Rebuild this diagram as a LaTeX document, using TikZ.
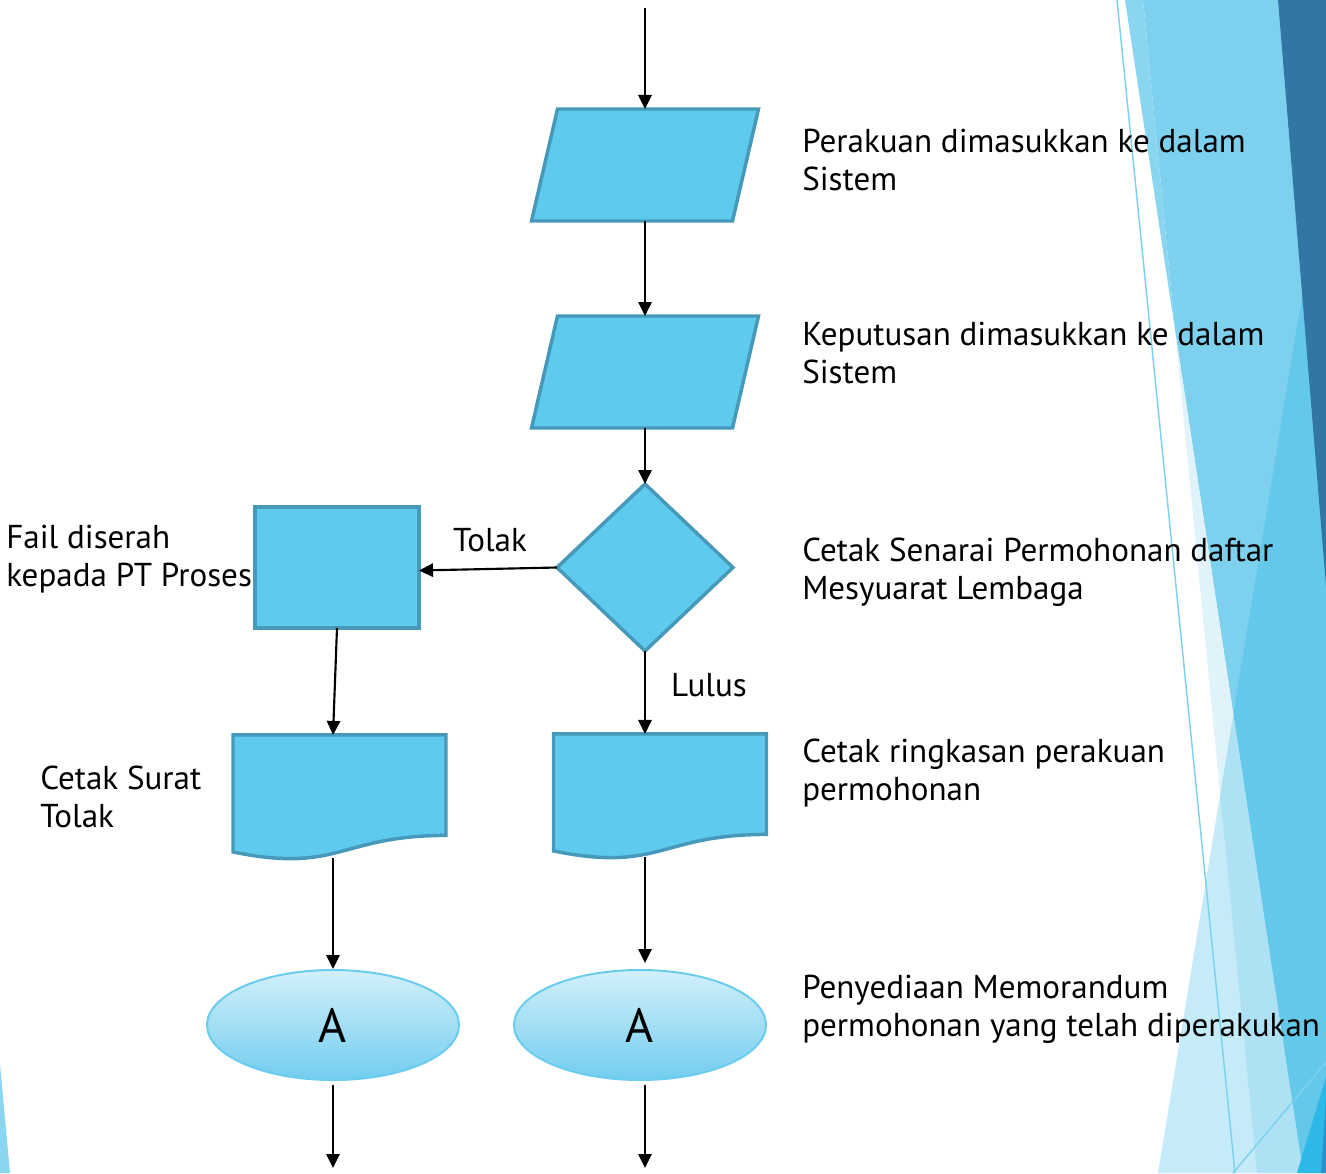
\documentclass[tikz,border=0pt]{standalone}
\usepackage{fontspec}
\setmainfont{PT Sans}
\usetikzlibrary{shapes.geometric,arrows.meta,calc}
\definecolor{shapefill}{HTML}{5ECAED}
\definecolor{shapeedge}{HTML}{4699B9}
\definecolor{ovaltop}{HTML}{D2F0FA}
\definecolor{ovalbot}{HTML}{72CDEF}
\definecolor{ovaledge}{HTML}{6ACCEE}
\definecolor{bgdark}{HTML}{3276A3}
\definecolor{bgmid}{HTML}{7DD1EE}
\definecolor{bgstrip}{HTML}{8AD6F0}
\definecolor{bgpale}{HTML}{E0F3FA}
\definecolor{bgtri}{HTML}{17AEE2}
\definecolor{bgdeep}{HTML}{2DB8E8}
\definecolor{bgdeeper}{HTML}{2E8FCC}
\definecolor{bgline}{HTML}{7DD1EE}
\tikzset{
  flowshape/.style={fill=shapefill, draw=shapeedge, line width=2.6pt, line join=miter, inner sep=0pt, outer sep=0pt},
  paraframe/.style={rectangle, draw=none, inner sep=0pt, outer sep=0pt, minimum width=170.25pt, minimum height=84pt},
  decbox/.style={flowshape, diamond, minimum width=132pt, minimum height=125.25pt},
  procbox/.style={flowshape, rectangle, minimum width=123pt, minimum height=90.75pt},
  docframe/.style={rectangle, draw=none, inner sep=0pt, outer sep=0pt, minimum width=159.75pt, minimum height=94pt},
  shapedraw/.style={fill=shapefill, draw=shapeedge, line width=2.6pt, line join=miter},
  connector/.style={ellipse, draw=ovaledge, line width=1.5pt, top color=ovaltop, bottom color=ovalbot,
    minimum width=189pt, minimum height=82.5pt, inner sep=0pt, font=\fontsize{36}{40}\selectfont},
  arr/.style={line width=1.6pt, -{Triangle[length=10.5pt,width=10pt]}},
  lbl/.style={inner sep=0pt, anchor=west, align=left, font=\fontsize{24.8}{28.5}\selectfont},
  clbl/.style={inner sep=0pt, font=\fontsize{24.8}{28.5}\selectfont}
}
\begin{document}
\begin{tikzpicture}[x=0.75pt,y=-0.75pt]
\useasboundingbox (0,0) rectangle (1326,1173);
% ---- background decoration ----
\fill[bgmid] (1143,0) -- (1326,0) -- (1326,1173) -- (1303,1173) -- (1175,330) -- cycle;
\fill[bgstrip] (1125,0) -- (1143,0) -- (1175,330) -- cycle;
\fill[bgpale] (1175,330) -- (1303,1173) -- (1257,1173) -- cycle;
\fill[bgtri, opacity=0.25] (1158,1173) -- (1326,150) -- (1326,1173) -- cycle;
\fill[bgdark] (1278,0) -- (1326,0) -- (1326,586) -- cycle;
\fill[bgdeep] (1297,1173) -- (1326,1077) -- (1326,1173) -- cycle;
\fill[bgdeeper] (1321,1173) -- (1326,1097) -- (1326,1173) -- cycle;
\draw[bgline, line width=1.1pt] (1117,0) -- (1235,1173);
\draw[bgline, line width=1.1pt] (1233,1173) -- (1326,1062);
\fill[bgstrip] (0,1064) -- (10,1173) -- (0,1173) -- cycle;
% ---- flowchart ----
\coordinate (start) at (645,8);
\node[paraframe] (p1) at (645,165) {};
\node[paraframe] (p2) at (645,372) {};
\draw[shapedraw] ($(p1.north west)+(26,0)$) -- (p1.north east) -- ($(p1.south east)+(-26,0)$) -- (p1.south west) -- cycle;
\draw[shapedraw] ($(p2.north west)+(26,0)$) -- (p2.north east) -- ($(p2.south east)+(-26,0)$) -- (p2.south west) -- cycle;
\node[decbox] (dm) at (645,567.5) {};
\node[procbox] (r1) at (337,567.5) {};
\node[docframe] (d1) at (339.5,797.6) {};
\node[docframe] (d2) at (660,796.6) {};
\draw[shapedraw] (d1.north west) -- (d1.north east) -- ($(d1.north east)+(0,100.5)$)
  .. controls ($(d1.north)+(0,100.5)$) and ($(d1.north)+(0,138.8)$) .. ($(d1.north west)+(0,117)$) -- cycle;
\draw[shapedraw] (d2.north west) -- (d2.north east) -- ($(d2.north east)+(0,100.5)$)
  .. controls ($(d2.north)+(0,100.5)$) and ($(d2.north)+(0,138.8)$) .. ($(d2.north west)+(0,117)$) -- cycle;
\node[connector] (e1) at (333,1025) {A};
\node[connector] (e2) at (640,1025) {A};
\coordinate (end1) at (333,1168);
\coordinate (end2) at (645,1168);
% connectors
\draw[arr] (start) -- (p1.north);
\draw[arr] (p1.south) -- (p2.north);
\draw[arr] (p2.south) -- (dm.north);
\draw[arr] (dm.west) -- ($(r1.east)+(0,3)$);
\draw[arr] (r1.south) -- (e1 |- d1.north);
\draw[arr] (dm.south) -- (dm.south |- d2.north);
\draw[arr] ($(e1 |- d1.south)+(0,-2)$) -- (e1.north);
\draw[arr] ($(dm.south |- d2.south)+(0,-2)$) -- ($(dm.south |- e2.north)+(0,-6)$);
\draw[arr] ($(e1.south)+(0,4)$) -- (end1);
\draw[arr] ($(end2 |- e2.south)+(0,4)$) -- (end2);
% labels
\node[clbl] (tolak) at (490,540) {Tolak};
\node[clbl] (lulus) at (709,685) {Lulus};
\node[lbl] (t1) at (802,160) {Perakuan dimasukkan ke dalam\\Sistem};
\node[lbl] (t2) at (802,353) {Keputusan dimasukkan ke dalam\\Sistem};
\node[lbl] (t3) at (802,572) {Cetak Senarai Permohonan daftar\\Mesyuarat Lembaga};
\node[lbl] (t4) at (802,773) {Cetak ringkasan perakuan\\permohonan};
\node[lbl] (t5) at (802,1009) {Penyediaan Memorandum\\permohonan yang telah diperakukan};
\node[lbl] (t6) at (6,559) {Fail diserah\\kepada PT Proses};
\node[lbl] (t7) at (40,797) {Cetak Surat\\Tolak};
\end{tikzpicture}
\end{document}
